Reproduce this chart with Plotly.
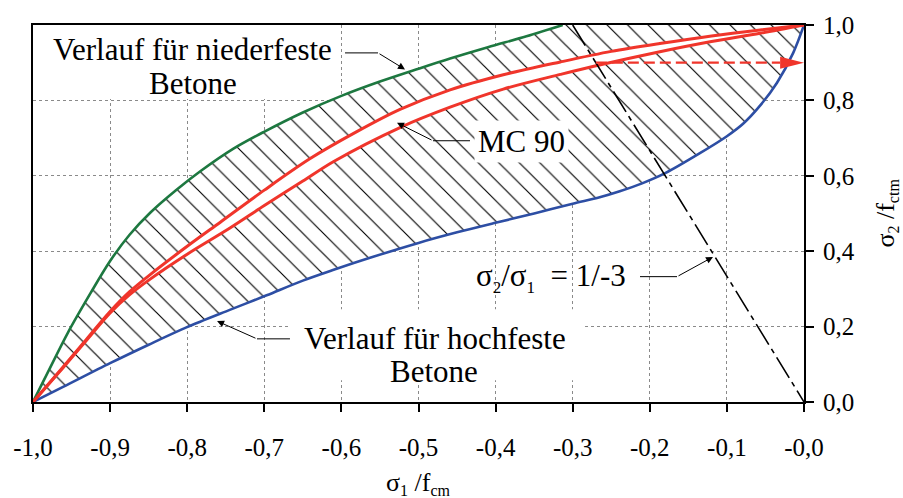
import numpy as np
import plotly.graph_objects as go

# sigma1/fcm (compression) on x, sigma2/fctm (tension) on y
# failure envelope for normal-strength concrete ("niederfeste Betone");
# the last point closes the envelope along the top edge
NIEDER_X = [-1.0, -0.98, -0.955, -0.925, -0.9, -0.875, -0.848, -0.815, -0.783, -0.74,
            -0.701, -0.65, -0.6, -0.55, -0.5, -0.459, -0.41, -0.36, -0.313, 0.0]
NIEDER_Y = [0.0, 0.082, 0.183, 0.290, 0.374, 0.443, 0.502, 0.561, 0.612, 0.672,
            0.716, 0.768, 0.812, 0.850, 0.884, 0.911, 0.941, 0.970, 1.0, 1.0]

# failure envelope for high-strength concrete ("hochfeste Betone")
HOCH_X = [-1.0, -0.961, -0.9, -0.85, -0.801, -0.744, -0.697, -0.65, -0.611, -0.576,
          -0.5, -0.45, -0.403, -0.35, -0.3, -0.265, -0.239, -0.21, -0.18, -0.135,
          -0.1, -0.079, -0.057, -0.035, -0.014, 0.0]
HOCH_Y = [0.0, 0.040, 0.103, 0.152, 0.198, 0.245, 0.283, 0.322, 0.350, 0.374,
          0.422, 0.450, 0.474, 0.500, 0.526, 0.543, 0.559, 0.580, 0.607, 0.660,
          0.705, 0.738, 0.786, 0.847, 0.926, 1.0]

# MC 90 envelope, upper and lower branch
MC90_UP_X = [-1.0, -0.961, -0.93, -0.9, -0.875, -0.848, -0.8, -0.757, -0.7, -0.641,
             -0.58, -0.524, -0.459, -0.39, -0.316, -0.25, -0.187, -0.12, -0.057, 0.0]
MC90_UP_Y = [0.0, 0.093, 0.168, 0.240, 0.292, 0.338, 0.413, 0.477, 0.562, 0.645,
             0.717, 0.776, 0.828, 0.868, 0.902, 0.930, 0.951, 0.971, 0.987, 1.0]
MC90_LO_X = [-1.0, -0.961, -0.93, -0.9, -0.875, -0.848, -0.8, -0.744, -0.7, -0.65,
             -0.61, -0.524, -0.459, -0.39, -0.316, -0.274, -0.187, -0.12, -0.057, 0.0]
MC90_LO_Y = [0.0, 0.091, 0.165, 0.236, 0.284, 0.326, 0.392, 0.462, 0.521, 0.586,
             0.638, 0.728, 0.782, 0.830, 0.869, 0.890, 0.929, 0.956, 0.978, 1.0]

# stress ratio sigma2/sigma1 = 1/-3
RATIO_X = [-0.3, 0.0]
RATIO_Y = [1.0, 0.0]

# level marked on the tension axis
MARK_LEVEL = 0.9

X_TICKS = [-1.0, -0.9, -0.8, -0.7, -0.6, -0.5, -0.4, -0.3, -0.2, -0.1, 0.0]
X_TICK_TEXT = ["-1,0", "-0,9", "-0,8", "-0,7", "-0,6", "-0,5", "-0,4", "-0,3", "-0,2", "-0,1", "-0,0"]
Y_TICKS = [0.0, 0.2, 0.4, 0.6, 0.8, 1.0]
Y_TICK_TEXT = ["0,0", "0,2", "0,4", "0,6", "0,8", "1,0"]

GREEN = "#1d7840"
BLUE = "#2d4ea4"
RED = "#f0352b"
SERIF = "Liberation Serif, Times New Roman, serif"

fig = go.Figure()

# hatched band between the two envelopes
band_x = NIEDER_X + HOCH_X[::-1]
band_y = NIEDER_Y + HOCH_Y[::-1]
fig.add_trace(go.Scatter(
    x=band_x, y=band_y, mode="none", fill="toself",
    fillpattern=dict(shape="\\", size=14.5, solidity=0.08, fgcolor="black",
                     bgcolor="white", fillmode="replace"),
    hoverinfo="skip", showlegend=False))

# blank strip between the two MC 90 branches
fig.add_trace(go.Scatter(
    x=MC90_UP_X + MC90_LO_X[::-1], y=MC90_UP_Y + MC90_LO_Y[::-1],
    mode="none", fill="toself", fillcolor="white",
    hoverinfo="skip", showlegend=False))

smooth = dict(shape="spline", smoothing=0.9)
fig.add_trace(go.Scatter(x=NIEDER_X[:-1], y=NIEDER_Y[:-1], mode="lines",
                         line=dict(color=GREEN, width=2.6, **smooth), showlegend=False))
fig.add_trace(go.Scatter(x=HOCH_X, y=HOCH_Y, mode="lines",
                         line=dict(color=BLUE, width=2.6, **smooth), showlegend=False))
fig.add_trace(go.Scatter(x=MC90_UP_X, y=MC90_UP_Y, mode="lines",
                         line=dict(color=RED, width=3, **smooth), showlegend=False))
fig.add_trace(go.Scatter(x=MC90_LO_X, y=MC90_LO_Y, mode="lines",
                         line=dict(color=RED, width=3, **smooth), showlegend=False))

fig.add_trace(go.Scatter(x=RATIO_X, y=RATIO_Y, mode="lines",
                         line=dict(color="black", width=1.6, dash="24px,5px,5px,5px"),
                         showlegend=False))

# dashed red arrow from the ratio line to the tension axis at the marked level
arrow_start = float(np.interp(MARK_LEVEL, RATIO_Y[::-1], RATIO_X[::-1]))
head_len = 0.031
head_half = 0.016
fig.add_trace(go.Scatter(x=[arrow_start, -head_len], y=[MARK_LEVEL, MARK_LEVEL], mode="lines",
                         line=dict(color=RED, width=2.2, dash="11px,5px"), showlegend=False))
fig.add_trace(go.Scatter(x=[-head_len, 0.0, -head_len, -head_len],
                         y=[MARK_LEVEL + head_half, MARK_LEVEL, MARK_LEVEL - head_half, MARK_LEVEL + head_half],
                         mode="none", fill="toself", fillcolor=RED, showlegend=False))

# white backgrounds behind the labels (above the grid, below the curves)
def label_box(x0, x1, y0, y1):
    fig.add_shape(type="rect", xref="x", yref="y", x0=x0, x1=x1, y0=y0, y1=y1,
                  fillcolor="white", line=dict(width=0), layer="between")

label_box(-1.0, -0.607, 0.804, 1.0)
label_box(-0.667, -0.284, 0.058, 0.246)

lbl_font = dict(family=SERIF, size=31, color="black")

def text(x, y, s, **kw):
    fig.add_annotation(x=x, y=y, xref="x", yref="y", text=s, showarrow=False,
                       font=lbl_font, **kw)

def small_sub(s, px):
    return "<sub><span style='font-size:%dpx'>%s</span></sub>" % (px, s)

text(-0.7925, 0.9356, "Verlauf für niederfeste")
text(-0.7925, 0.844, "Betone")
text(-0.4786, 0.1678, "Verlauf für hochfeste")
text(-0.4799, 0.0804, "Betone")
text(-0.3664, 0.6921, "MC 90", bgcolor="white", borderpad=3)
text(-0.2283, 0.329,
     "σ" + small_sub("2", 17) + "/σ" + small_sub("1", 17) + "\u00a0\u00a0= 1/-3",
     xanchor="right")

# leader lines: horizontal stub + arrow to the curve
def leader(x_start, x_bend, y_bend, x_tip, y_tip):
    fig.add_shape(type="line", xref="x", yref="y", x0=x_start, x1=x_bend,
                  y0=y_bend, y1=y_bend, line=dict(color="black", width=1))
    fig.add_annotation(x=x_tip, y=y_tip, ax=x_bend, ay=y_bend, xref="x", yref="y",
                       axref="x", ayref="y", text="", showarrow=True, arrowhead=2,
                       arrowsize=1.4, arrowwidth=1, arrowcolor="black")

leader(-0.5953, -0.5525, 0.926, -0.5175, 0.8822)
leader(-0.4332, -0.4812, 0.693, -0.5279, 0.7408)
leader(-0.6667, -0.7095, 0.1675, -0.7613, 0.2147)
leader(-0.2127, -0.1647, 0.3325, -0.118, 0.3848)

tick_font = dict(family=SERIF, size=25, color="black")
grid = dict(showgrid=True, gridcolor="#8a8a8a", gridwidth=1, griddash="dot")

fig.update_layout(
    width=903, height=498,
    margin=dict(l=33, r=99, t=20, b=96),
    paper_bgcolor="white", plot_bgcolor="white",
    showlegend=False,
    xaxis=dict(range=[-1.0, 0.0], tickvals=X_TICKS, ticktext=X_TICK_TEXT,
               ticks="outside", ticklen=8, tickwidth=1.5, tickcolor="black",
               showline=True, linewidth=2, linecolor="black", mirror=True,
               zeroline=False, tickfont=tick_font, ticklabelstandoff=14, **grid),
    xaxis2=dict(range=[-1.0, 0.0], overlaying="x", anchor="y", side="bottom",
                tickvals=X_TICKS, ticks="inside", ticklen=8, tickwidth=1.5,
                tickcolor="black", showticklabels=False, showgrid=False,
                zeroline=False, showline=False),
    yaxis=dict(range=[0.0, 1.0], side="right", tickvals=Y_TICKS, ticktext=Y_TICK_TEXT,
               ticks="outside", ticklen=8, tickwidth=1.5, tickcolor="black",
               showline=True, linewidth=2, linecolor="black", mirror=True,
               zeroline=False, tickfont=tick_font, ticklabelstandoff=4, **grid),
    yaxis2=dict(range=[0.0, 1.0], overlaying="y", anchor="x", side="right",
                tickvals=Y_TICKS, ticks="inside", ticklen=8, tickwidth=1.5,
                tickcolor="black", showticklabels=False, showgrid=False,
                zeroline=False, showline=False),
    yaxis3=dict(range=[0.0, 1.0], overlaying="y", anchor="x", side="right",
                tickvals=[MARK_LEVEL], ticktext=["<b>0,9</b>"],
                ticks="outside", ticklen=8, tickcolor="rgba(0,0,0,0)",
                tickfont=dict(family=SERIF, size=25, color=RED), ticklabelstandoff=4,
                showgrid=False, zeroline=False, showline=False),
)

# axis titles
fig.add_annotation(xref="paper", yref="paper", x=0.5, y=-0.215, yanchor="middle",
                   text="σ" + small_sub("1", 16) + " /f" + small_sub("cm", 16), showarrow=False,
                   font=dict(family=SERIF, size=26, color="black"))
fig.add_annotation(xref="paper", yref="paper", x=1.1064, y=0.5, xanchor="center",
                   textangle=-90, text="σ" + small_sub("2", 16) + " /f" + small_sub("ctm", 16),
                   showarrow=False, font=dict(family=SERIF, size=26, color="black"))

fig.write_html("out.html")
